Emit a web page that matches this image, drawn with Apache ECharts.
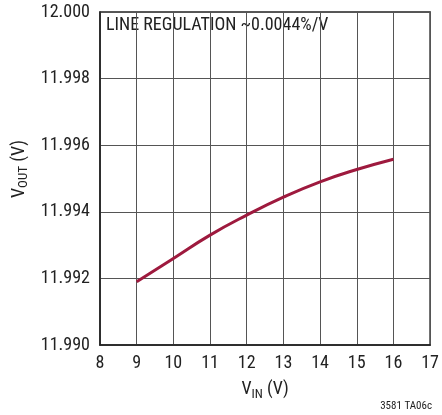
<!DOCTYPE html>
<html>
<head>
<meta charset="utf-8">
<style>
  html, body { margin: 0; padding: 0; background: #fff; }
  #chart { width: 442px; height: 415px; }
</style>
<script src="https://cdn.jsdelivr.net/npm/echarts@6/dist/echarts.min.js"></script>
</head>
<body>
<div id="chart"></div>
<script>
// Input voltage (V) and measured output voltage (V)
const vin = [9, 10, 11, 12, 13, 14, 15, 16];
const vout = [11.9919, 11.9926, 11.9933, 11.9939, 11.99444, 11.9949, 11.99527, 11.99558];

// Axis ranges and tick spacing
const xMin = 8, xMax = 17, xStep = 1;
const yMin = 11.990, yMax = 12.000, yStep = 0.002;

const FONT = '"Roboto Condensed", "Liberation Sans Narrow", Arial, sans-serif';
const GRID = { left: 100, top: 12, width: 333, height: 333 };

const chart = echarts.init(document.getElementById('chart'), null, { renderer: 'canvas' });

chart.setOption({
  animation: false,
  backgroundColor: '#ffffff',
  grid: Object.assign({ show: true, borderColor: '#222', borderWidth: 1.5, containLabel: false }, GRID),
  xAxis: {
    type: 'value',
    min: xMin, max: xMax, interval: xStep,
    axisLine: { show: true, lineStyle: { color: '#222', width: 1.5 } },
    axisTick: { show: false },
    splitLine: { show: true, lineStyle: { color: '#555', width: 1 } },
    axisLabel: { color: '#222', fontFamily: FONT, fontSize: 18, margin: 9 },
    name: '{v|V}{s|IN}{v| (V)}',
    nameLocation: 'middle',
    nameGap: 33,
    nameTextStyle: {
      rich: {
        v: { fontFamily: FONT, fontSize: 18, color: '#222' },
        s: { fontFamily: FONT, fontSize: 13, color: '#222', padding: [10, 0, 0, 0] }
      }
    }
  },
  yAxis: {
    type: 'value',
    min: yMin, max: yMax, interval: yStep,
    axisLine: { show: true, lineStyle: { color: '#222', width: 1.5 } },
    axisTick: { show: false },
    splitLine: { show: true, lineStyle: { color: '#555', width: 1 } },
    axisLabel: {
      color: '#222', fontFamily: FONT, fontSize: 18, margin: 10,
      formatter: v => v.toFixed(3)
    }
  },
  graphic: [
    {
      type: 'text',
      x: 19, y: 169,
      rotation: Math.PI / 2,
      style: {
        text: '{v|V}{s|OUT}{v| (V)}',
        align: 'center', verticalAlign: 'middle',
        rich: {
          v: { fontFamily: FONT, fontSize: 18, fill: '#222' },
          s: { fontFamily: FONT, fontSize: 13, fill: '#222', padding: [10, 0, 0, 0] }
        }
      }
    },
    {
      type: 'text',
      left: 106, top: 16,
      style: {
        text: 'LINE REGULATION ~0.0044%/V',
        fontFamily: FONT, fontSize: 18, fill: '#222'
      }
    },
    {
      type: 'text',
      right: 10, top: 401,
      style: {
        text: '3581 TA06c',
        fontFamily: FONT, fontSize: 11, fill: '#222'
      }
    }
  ],
  series: [{
    type: 'line',
    data: vin.map((x, i) => [x, vout[i]]),
    smooth: true,
    showSymbol: false,
    lineStyle: { color: '#9e1a3e', width: 3 },
    z: 5
  }]
});
</script>
</body>
</html>
